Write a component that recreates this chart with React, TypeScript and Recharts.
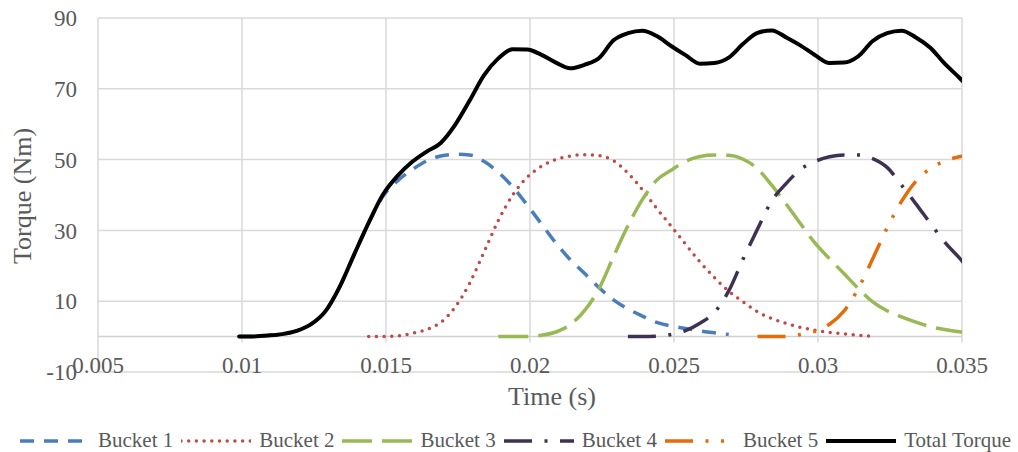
import React from 'react';
import { LineChart, Line, XAxis, YAxis, CartesianGrid, ReferenceLine } from 'recharts';

// time (s) sample points
const time = [
  0.0099, 0.0104, 0.0109, 0.0114, 0.0119, 0.0124, 0.0129, 0.0134, 0.0139, 0.0144,
  0.0149, 0.0154, 0.0159, 0.0164, 0.0169, 0.0174, 0.0179, 0.0184, 0.0189, 0.0194,
  0.0199, 0.0204, 0.0209, 0.0214, 0.0219, 0.0224, 0.0229, 0.0234, 0.0239, 0.0244,
  0.0249, 0.0254, 0.0259, 0.0264, 0.0269, 0.0274, 0.0279, 0.0284, 0.0289, 0.0294,
  0.0299, 0.0304, 0.0309, 0.0314, 0.0319, 0.0324, 0.0329, 0.0334, 0.0339, 0.0344,
  0.0349, 0.0354,
];

// torque (Nm) per bucket, each starting at its own index in `time`
const bucket1Start = 0;
const bucket1 = [
  0, 0.05, 0.3, 0.7, 1.6, 3.5, 7.2, 14.2, 23.3, 32.2, 39.7, 44.0, 47.1, 49.6, 51.0,
  51.5, 51.3, 49.5, 46.4, 42.3, 37.2, 31.8, 26.4, 21.7, 17.8, 13.8, 10.4, 7.8, 5.8,
  4.0, 3.0, 2.3, 1.6, 1.1, 0.6,
];
const bucket2Start = 9;
const bucket2 = [
  0, 0, 0.2, 0.9, 2.0, 4.0, 8.3, 15.0, 23.8, 32.8, 40.0, 45.0, 48.1, 50.0, 51.0,
  51.4, 51.1, 49.7, 46.2, 41.5, 36.2, 31.2, 26.1, 21.1, 16.7, 12.8, 9.8, 7.0, 5.1,
  3.7, 2.6, 1.8, 1.2, 0.8, 0.4, 0.1,
];
const bucket3Start = 18;
const bucket3 = [
  0, 0, 0.05, 0.4, 1.3, 3.4, 7.4, 13.6, 22.6, 31.3, 38.7, 44.2, 47.0, 49.5, 50.9,
  51.3, 51.2, 50.1, 47.4, 42.7, 37.4, 31.8, 26.4, 22.0, 17.8, 13.6, 9.8, 7.3, 5.6,
  4.1, 2.8, 2.0, 1.4, 1.0,
];
const bucket4Start = 27;
const bucket4 = [
  0, 0, 0.1, 0.6, 1.7, 3.8, 6.8, 12.9, 21.9, 30.4, 38.4, 43.3, 47.3, 49.5, 50.8,
  51.3, 51.3, 50.3, 47.8, 42.8, 37.5, 32.0, 26.7, 22.3, 17.5,
];
const bucket5Start = 36;
const bucket5 = [
  0, 0, 0.05, 0.6, 1.5, 3.5, 7.2, 13.6, 22.0, 30.7, 38.2, 43.9, 47.5, 49.6, 50.8, 51.4,
];
const totalTorque = [
  0, 0.05, 0.3, 0.7, 1.6, 3.5, 7.2, 14.2, 23.3, 32.2, 40.2, 45.4, 49.3, 52.2, 54.7,
  59.8, 66.6, 73.8, 78.6, 81.2, 81.1, 79.6, 77.4, 75.8, 76.8, 78.7, 83.7, 85.7, 86.4,
  84.9, 82.1, 79.5, 77.1, 77.3, 78.8, 82.7, 85.8, 86.5, 84.5, 82.2, 79.5, 77.3, 77.4,
  79.2, 83.5, 85.7, 86.4, 84.5, 81.6, 77.1, 73.2, 69.0,
];

const xTicks = [0.005, 0.01, 0.015, 0.02, 0.025, 0.03, 0.035];
const yTicks = [-10, 10, 30, 50, 70, 90];

const FONT = "'Liberation Serif', 'Times New Roman', serif";
const TEXT = '#595959';
const GRID = '#d9d9d9';

const series = [
  { key: 'b1', name: 'Bucket 1', color: '#4a7ebb', dash: '14 10', cap: 'butt', width: 3.5 },
  { key: 'b2', name: 'Bucket 2', color: '#be4b48', dash: '0 7.7', cap: 'round', width: 3.5 },
  { key: 'b3', name: 'Bucket 3', color: '#98b954', dash: '30 10', cap: 'butt', width: 3.5 },
  { key: 'b4', name: 'Bucket 4', color: '#3f3151', dash: '28 12.5 3 12.5', cap: 'butt', width: 3.5 },
  { key: 'b5', name: 'Bucket 5', color: '#e46c0a', dash: '28 12.5 3 12.5 3 12.5', cap: 'butt', width: 3.5 },
  { key: 'total', name: 'Total Torque', color: '#000000', dash: undefined, cap: 'round', width: 4 },
] as const;

const at = (values: number[], start: number, i: number) =>
  i >= start && i - start < values.length ? values[i - start] : null;

const data = time.map((t, i) => ({
  t,
  b1: at(bucket1, bucket1Start, i),
  b2: at(bucket2, bucket2Start, i),
  b3: at(bucket3, bucket3Start, i),
  b4: at(bucket4, bucket4Start, i),
  b5: at(bucket5, bucket5Start, i),
  total: totalTorque[i],
}));

const XTick = (props: any) => {
  const { x, y, payload } = props;
  return (
    <text x={x} y={y + 1} textAnchor="middle" fill={TEXT} fontSize={23} fontFamily={FONT}>
      {String(payload.value)}
    </text>
  );
};

const Legend = () => (
  <div
    style={{
      position: 'absolute',
      left: 20,
      top: 428,
      display: 'flex',
      alignItems: 'center',
      gap: 8,
      fontFamily: FONT,
      fontSize: 21,
      color: TEXT,
      whiteSpace: 'nowrap',
    }}
  >
    {series.map((s) => (
      <div key={s.key} style={{ display: 'flex', alignItems: 'center', gap: 8 }}>
        <svg width={70} height={10}>
          <line
            x1={0}
            y1={5}
            x2={70}
            y2={5}
            stroke={s.color}
            strokeWidth={s.width}
            strokeDasharray={s.dash}
            strokeLinecap={s.cap}
          />
        </svg>
        <span>{s.name}</span>
      </div>
    ))}
  </div>
);

export default function App() {
  return (
    <div style={{ position: 'absolute', left: 0, top: 0, width: 1018, height: 452, background: '#fff' }}>
      <LineChart width={1018} height={452} data={data} margin={{ top: 18, right: 56, left: 38, bottom: 50 }}>
        <CartesianGrid vertical={false} stroke={GRID} strokeWidth={1.5} />
        {xTicks.slice(1).map((x) => (
          <ReferenceLine
            key={x}
            segment={[
              { x, y: -1.7 },
              { x, y: 90 },
            ]}
            stroke={GRID}
            strokeWidth={1.5}
          />
        ))}
        <ReferenceLine y={0} stroke="#d0d0d0" strokeWidth={1.5} />
        <XAxis
          type="number"
          dataKey="t"
          domain={[0.005, 0.035]}
          ticks={xTicks}
          allowDataOverflow
          axisLine={false}
          tickLine={false}
          tickSize={0}
          tickMargin={0}
          height={30}
          tick={<XTick />}
          interval={0}
        />
        <YAxis
          type="number"
          domain={[-10, 90]}
          ticks={yTicks}
          allowDataOverflow
          width={60}
          axisLine={{ stroke: GRID, strokeWidth: 1.5 }}
          tickLine={false}
          tickSize={0}
          tickMargin={21}
          interval={0}
          tick={{ fill: TEXT, fontSize: 23, fontFamily: FONT }}
        />
        {series.map((s) => (
          <Line
            key={s.key}
            type="monotone"
            dataKey={s.key}
            name={s.name}
            stroke={s.color}
            strokeWidth={s.width}
            strokeDasharray={s.dash}
            strokeLinecap={s.cap}
            strokeLinejoin="round"
            dot={false}
            activeDot={false}
            isAnimationActive={false}
          />
        ))}
        <text x={552} y={405} textAnchor="middle" fill={TEXT} fontSize={26} fontFamily={FONT}>
          Time (s)
        </text>
        <text
          x={31}
          y={196}
          transform="rotate(-90 31 196)"
          textAnchor="middle"
          fill={TEXT}
          fontSize={26}
          fontFamily={FONT}
        >
          Torque (Nm)
        </text>
      </LineChart>
      <Legend />
    </div>
  );
}
